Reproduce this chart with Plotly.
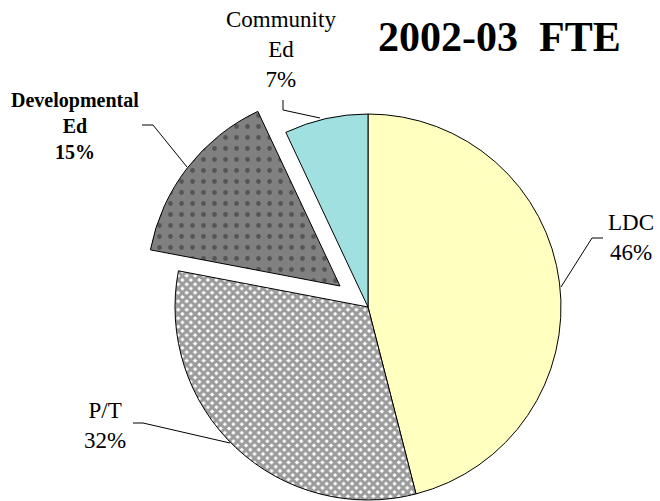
import plotly.graph_objects as go

# ---- data ----
labels = ["LDC", "P/T", "Developmental Ed", "Community Ed"]
values = [46, 32, 15, 7]
label_lines = ["LDC", "P/T", "Developmental<br>Ed", "Community<br>Ed"]
colors = ["#FFFFC0", "#FFFFFF", "#808080", "#A0E0E0"]
title_text = "2002-03  FTE"

W, H = 660, 501
def px(x):
    return x / W
def py(y):
    return 1 - y / H

# geometry of the pie (pixels)
R = 193
cx, cy = 368, 307
off_x, off_y = -28, -21  # exploded slice offset

def dom(cxp, cyp):
    return dict(x=[(cxp - R) / W, (cxp + R) / W],
                y=[1 - (cyp + R) / H, 1 - (cyp - R) / H])

explode_idx = 2
clear = "rgba(0,0,0,0)"

# main pie: all slices except the exploded one
main_colors = [c if i != explode_idx else clear for i, c in enumerate(colors)]
main_lw = [1 if i != explode_idx else 0 for i in range(len(values))]
main_shape = ["", "x", "", ""]
main_fg = ["#000", "#383838", "#000", "#000"]
main_bg = [main_colors[0], "#FFFFFF", clear, main_colors[3]]

# exploded slice pie
ex_colors = [c if i == explode_idx else clear for i, c in enumerate(colors)]
ex_lw = [1 if i == explode_idx else 0 for i in range(len(values))]
ex_shape = ["", "", ".", ""]
ex_fg = ["#000", "#000", "#2a2a2a", "#000"]
ex_bg = [clear, clear, "#808080", clear]

fig = go.Figure()
fig.add_trace(go.Pie(
    labels=labels, values=values, sort=False, direction="clockwise", rotation=0,
    textinfo="none", hoverinfo="label+percent", showlegend=False,
    domain=dom(cx, cy),
    marker=dict(colors=main_colors, line=dict(color="black", width=main_lw),
                pattern=dict(shape=main_shape, fgcolor=main_fg, bgcolor=main_bg,
                             size=6, solidity=0.75, fillmode="overlay")),
))
fig.add_trace(go.Pie(
    labels=labels, values=values, sort=False, direction="clockwise", rotation=0,
    textinfo="none", hoverinfo="skip", showlegend=False,
    domain=dom(cx + off_x, cy + off_y),
    marker=dict(colors=ex_colors, line=dict(color="black", width=ex_lw),
                pattern=dict(shape=ex_shape, fgcolor=ex_fg, bgcolor=ex_bg,
                             size=11, solidity=0.15, fillmode="overlay")),
))

# label positions (pixels) and styles
label_pos = [(631, 237), (105, 425), (75, 126), (281, 49)]
label_size = [23, 23, 20, 23]
label_bold = [False, False, True, False]

annotations = []
for i, lab in enumerate(label_lines):
    txt = f"{lab}<br>{values[i]}%"
    if label_bold[i]:
        txt = f"<b>{lab}<br>{values[i]}%</b>"
    x, y = label_pos[i]
    annotations.append(dict(
        x=px(x), y=py(y), xref="paper", yref="paper", text=txt, showarrow=False,
        xanchor="center", yanchor="middle", align="center",
        font=dict(family="Liberation Serif", size=label_size[i], color="black")))

annotations.append(dict(
    x=px(499), y=py(37), xref="paper", yref="paper", text=f"<b>{title_text}</b>",
    showarrow=False, xanchor="center", yanchor="middle",
    font=dict(family="Liberation Serif", size=42, color="black")))

# leader lines (pixels)
leaders = [
    [(603, 238), (592, 238), (561, 287)],
    [(133, 423), (143, 423), (230, 443)],
    [(142, 125), (153, 125), (187, 167)],
    [(283, 100), (283, 110), (320, 118)],
]
shapes = []
for pts in leaders:
    for (x0, y0), (x1, y1) in zip(pts[:-1], pts[1:]):
        shapes.append(dict(type="line", xref="paper", yref="paper",
                           x0=px(x0), y0=py(y0), x1=px(x1), y1=py(y1),
                           line=dict(color="black", width=1)))

fig.update_layout(
    width=W, height=H, margin=dict(l=0, r=0, t=0, b=0),
    paper_bgcolor="white", plot_bgcolor="white",
    annotations=annotations, shapes=shapes, showlegend=False,
)

fig.write_html("out.html", config={"displayModeBar": False},
               post_script="document.body.style.margin='0';document.body.style.overflow='hidden';")
